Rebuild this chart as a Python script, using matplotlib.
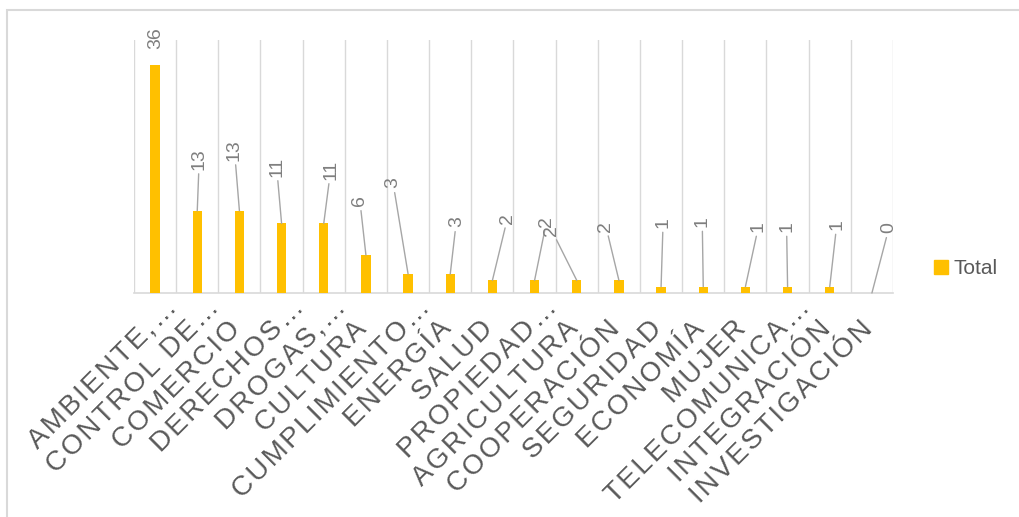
import matplotlib
matplotlib.use("Agg")
import matplotlib.pyplot as plt
import matplotlib.transforms as mtransforms
from matplotlib.patches import Patch, Rectangle
import numpy as np

plt.rcParams["font.family"] = ["Liberation Sans", "DejaVu Sans"]

# temas (texto visible en el eje) y total de acuerdos por tema
temas = ["AMBIENTE,", "CONTROL DE", "COMERCIO", "DERECHOS", "DROGAS,", "CULTURA",
         "CUMPLIMIENTO", "ENERGÍA", "SALUD", "PROPIEDAD", "AGRICULTURA",
         "COOPERACIÓN", "SEGURIDAD", "ECONOMÍA", "MUJER", "TELECOMUNICA",
         "INTEGRACIÓN", "INVESTIGACIÓN"]
recortado = [True, True, False, True, True, False, True, False, False, True,
             False, False, False, False, False, True, False, False]
totales = [36, 13, 13, 11, 11, 6, 3, 3, 2, 2, 2, 2, 1, 1, 1, 1, 1, 0]

# desplazamiento (px) de cada etiqueta de valor respecto a la punta de su barra
etq_dx = [1, 2, -5, -5, 7, -6, -15, 6, 15, 12, -25, -13, 2, -1, 13, -1, 7, 17]
etq_dy = [27, 52, 61, 57, 54, 54, 91, 52, 62, 59, 50, 54, 64, 65, 60, 60, 62, 65]
con_guia = [False] + [True] * 17

AMARILLO = "#FFC000"
GRIS_TXT = "#595959"
GRIS_VAL = "#7f7f7f"
GRIS_LIN = "#d9d9d9"
ESP = "\u200a"  # espacio fino entre letras

fig = plt.figure(figsize=(10.19, 5.17), dpi=100)
ax = fig.add_axes([134 / 1019, 1 - 293 / 517, 759 / 1019, 253 / 517])

x = np.arange(len(temas))
ax.bar(x, totales, width=0.22, color=AMARILLO, zorder=3)

ax.set_xlim(-0.5, len(temas) - 0.5)
ax.set_ylim(0, 40)

# lineas verticales entre categorias
ax.set_xticks(np.arange(-0.5, len(temas)), minor=True)
ax.grid(True, which="minor", axis="x", color=GRIS_LIN, lw=1, zorder=0)
ax.set_xticks(x)
ax.set_xticklabels([])
ax.tick_params(axis="both", which="both", length=0)
ax.set_yticks([])
for lado in ["left", "right", "top"]:
    ax.spines[lado].set_visible(False)
ax.spines["bottom"].set_color(GRIS_LIN)
ax.spines["bottom"].set_linewidth(1.2)

# etiquetas de valor con lineas guia
for i, v in enumerate(totales):
    flecha = None
    if con_guia[i]:
        flecha = dict(arrowstyle="-", color="#a6a6a6", lw=1, shrinkA=1, shrinkB=0)
    ax.annotate(str(v), xy=(i, v), xytext=(etq_dx[i], etq_dy[i]),
                textcoords="offset pixels", rotation=90, ha="center", va="center",
                fontsize=14, color=GRIS_VAL, arrowprops=flecha, zorder=4)

# etiquetas de categoria a 45 grados, con letras algo espaciadas
trans = mtransforms.offset_copy(ax.get_xaxis_transform(), fig=fig, x=2, y=-37, units="dots")
for i, t in enumerate(temas):
    ax.text(i, 0, ESP.join(t), transform=trans, rotation=45, rotation_mode="anchor",
            ha="right", va="baseline", fontsize=20, color=GRIS_TXT, clip_on=False)
    if recortado[i]:
        ax.text(i, 0, ESP + "\u2026", transform=trans, rotation=45, rotation_mode="anchor",
                ha="left", va="baseline", fontsize=20, color=GRIS_TXT, clip_on=False)

fig.legend(handles=[Patch(color=AMARILLO, label="Total")], loc="center left",
           bbox_to_anchor=(934 / 1019, 1 - 269 / 517), frameon=False, fontsize=15,
           handlelength=0.65, handleheight=0.65, handletextpad=0.3,
           borderpad=0, borderaxespad=0, labelcolor=GRIS_TXT)

# borde del grafico
fig.patches.append(Rectangle((7 / 1019, -0.05), 1.2, 1.05 - 10 / 517,
                             transform=fig.transFigure, fill=False,
                             edgecolor=GRIS_LIN, lw=1.5))

fig.savefig("out.png", dpi=100)
